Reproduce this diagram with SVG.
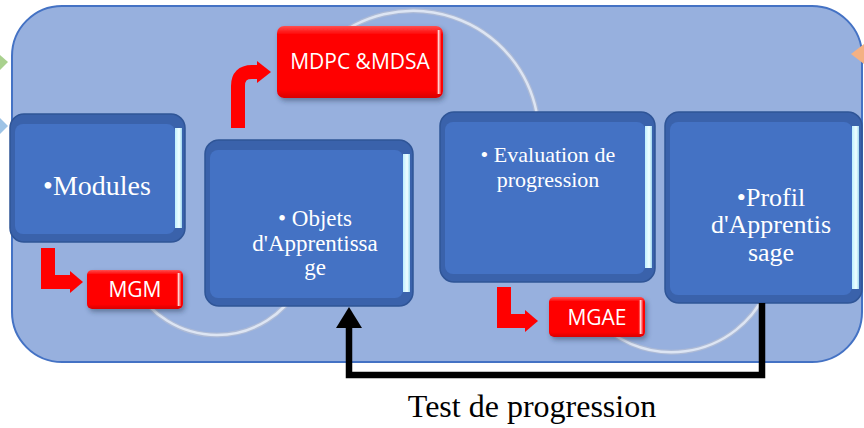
<svg xmlns="http://www.w3.org/2000/svg" width="864" height="428" viewBox="0 0 864 428">
<style>
.outer{fill:#3A62AB;stroke:#2F5597;stroke-width:1.5}
.inner{fill:#4472C4}
.strip{fill:url(#stripG)}
.btxt{font-family:"Liberation Serif","Times New Roman",serif;fill:#FFFFFF;text-anchor:middle}
.rtxt{font-family:"Open Sans","Liberation Sans",sans-serif;fill:#FFFFFF;text-anchor:middle;font-size:21px}
.red{fill:url(#redG);filter:url(#sh)}
.arcB{fill:none;stroke:#AEBBD6;stroke-width:5}
.arcF{fill:none;stroke:#DDE5F3;stroke-width:2.5}
.rarrow{fill:none;stroke:#FF0000;stroke-width:14;stroke-linejoin:miter}
</style>
<defs>
<linearGradient id="stripG" x1="0" y1="0" x2="1" y2="0">
<stop offset="0" stop-color="#BFEFFF"/>
<stop offset="0.6" stop-color="#F0FFFF"/>
<stop offset="1" stop-color="#9FD8F0"/>
</linearGradient>
<linearGradient id="redG" x1="0" y1="0" x2="0" y2="1">
<stop offset="0" stop-color="#FF5050"/>
<stop offset="0.12" stop-color="#FF0000"/>
<stop offset="0.88" stop-color="#FF0000"/>
<stop offset="1" stop-color="#D80000"/>
</linearGradient>
<linearGradient id="redS" x1="0" y1="0" x2="1" y2="0">
<stop offset="0" stop-color="#FF0000" stop-opacity="0"/>
<stop offset="0.5" stop-color="#FFD0D0"/>
<stop offset="1" stop-color="#FF2020"/>
</linearGradient>
<filter id="sh" x="-20%" y="-20%" width="140%" height="150%">
<feDropShadow dx="2" dy="3" stdDeviation="2.5" flood-color="#203050" flood-opacity="0.45"/>
</filter>
</defs>

<g id="background">
<rect x="12" y="6" width="850" height="356" rx="50" fill="#97B0DE" stroke="#4472C4" stroke-width="2"/>
<polygon points="0,55 8,62 0,70" fill="#A9D18E"/>
<polygon points="0,118 8,126 0,134" fill="#9DC3E6"/>
<polygon points="864,44 851,54 864,64" fill="#F4B183"/>
</g>

<g id="arcs">
<path class="arcB" d="M330 42 A126 126 0 0 1 536.5 112"/>
<path class="arcF" d="M330 42 A126 126 0 0 1 536.5 112"/>
<path class="arcB" d="M135.6 288 A94 94 0 0 0 298.4 288"/>
<path class="arcF" d="M135.6 288 A94 94 0 0 0 298.4 288"/>
<path class="arcB" d="M592 315 A104 104 0 0 0 766 292"/>
<path class="arcF" d="M592 315 A104 104 0 0 0 766 292"/>
</g>

<g id="node-modules">
<rect class="outer" x="10" y="114" width="175" height="128" rx="14"/>
<rect class="inner" x="15" y="124" width="160" height="110" rx="8"/>
<rect class="strip" x="175" y="128" width="7" height="100"/>
<text class="btxt" x="97" y="195" font-size="28">•Modules</text>
</g>

<g id="node-objets">
<rect class="outer" x="205" y="140" width="208" height="166" rx="14"/>
<rect class="inner" x="210" y="150" width="193" height="148" rx="8"/>
<rect class="strip" x="403" y="154" width="7" height="138"/>
<text class="btxt" font-size="23"><tspan x="315" y="226">• Objets</tspan><tspan x="315" y="251">d'Apprentissa</tspan><tspan x="315" y="275">ge</tspan></text>
</g>

<g id="node-evaluation">
<rect class="outer" x="440" y="112" width="215" height="170" rx="14"/>
<rect class="inner" x="445" y="122" width="200" height="152" rx="8"/>
<rect class="strip" x="645" y="126" width="7" height="142"/>
<text class="btxt" font-size="22"><tspan x="548" y="162">• Evaluation de</tspan><tspan x="548" y="187">progression</tspan></text>
</g>

<g id="node-profil">
<rect class="outer" x="665" y="112" width="197" height="191" rx="14"/>
<rect class="inner" x="670" y="122" width="182" height="173" rx="8"/>
<rect class="strip" x="852" y="126" width="7" height="163"/>
<text class="btxt" font-size="26"><tspan x="771" y="206">•Profil</tspan><tspan x="771" y="233">d'Apprentis</tspan><tspan x="771" y="261">sage</tspan></text>
</g>

<g id="node-mdpc">
<rect class="red" x="277" y="26" width="166" height="72" rx="7"/>
<rect x="436" y="30" width="5" height="64" fill="url(#redS)"/>
<text class="rtxt" x="360" y="69">MDPC &amp;MDSA</text>
</g>

<g id="node-mgm">
<rect class="red" x="87" y="270" width="96" height="39" rx="5"/>
<rect x="176" y="273" width="5" height="33" fill="url(#redS)"/>
<text class="rtxt" x="135" y="297">MGM</text>
</g>

<g id="node-mgae">
<rect class="red" x="549" y="297" width="96" height="40" rx="5"/>
<rect x="638" y="300" width="5" height="34" fill="url(#redS)"/>
<text class="rtxt" x="597" y="325">MGAE</text>
</g>

<g id="connectors">
<path class="rarrow" d="M238 128 V86 Q238 72 252 72 H259"/>
<polygon points="257,61 271,72 257,83" fill="#FF0000"/>
<path class="rarrow" d="M48 248 V282 H72"/>
<polygon points="70,271 83,282 70,293" fill="#FF0000"/>
<path class="rarrow" d="M504 287 V321 H527"/>
<polygon points="525,310 538,321 525,332" fill="#FF0000"/>
<path d="M762 303 V375 H349 V326" fill="none" stroke="#000000" stroke-width="6.5" stroke-linejoin="miter"/>
<polygon points="336,328 349,307 362,328" fill="#000000"/>
</g>

<g id="label-test">
<text x="532" y="417" font-family="Liberation Serif,'Times New Roman',serif" font-size="32" text-anchor="middle" fill="#000000">Test de progression</text>
</g>
</svg>
